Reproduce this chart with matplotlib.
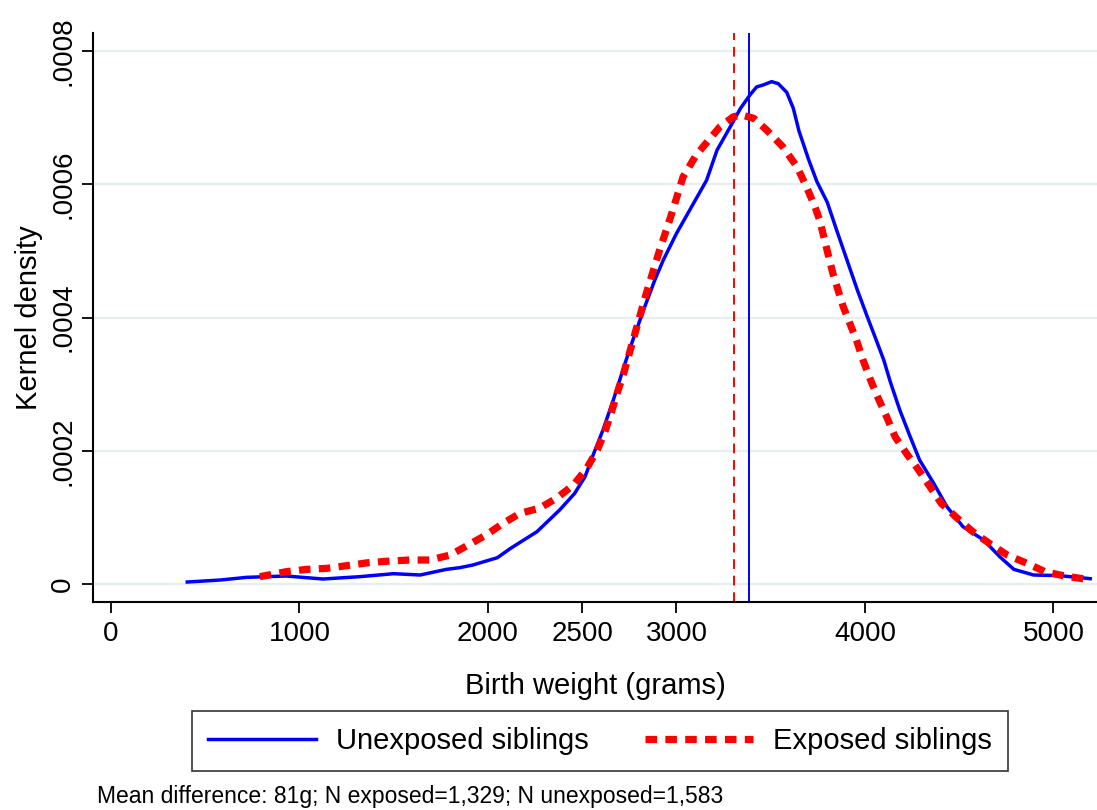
import matplotlib
matplotlib.use("Agg")
import matplotlib.pyplot as plt
from matplotlib.ticker import FuncFormatter

plt.rcParams['font.family'] = ['Liberation Sans', 'DejaVu Sans']

# Unexposed siblings (blue solid) kernel density
unexp_g = [405, 580, 720, 930, 1125, 1320, 1500, 1640, 1780, 1850, 1920, 2050, 2120,
           2260, 2380, 2460, 2515, 2560, 2610, 2665, 2750, 2825, 2885, 2930, 3000, 3090,
           3160, 3215, 3285, 3340, 3390, 3425, 3460, 3505, 3540, 3585, 3620, 3650, 3700,
           3745, 3800, 3850, 3905, 3960, 4010, 4060, 4100, 4135, 4185, 4240, 4290, 4365,
           4435, 4520, 4630, 4715, 4790, 4895, 5035, 5195]
unexp_d = [3, 6, 10, 12, 7.5, 11, 15.5, 13.5, 22, 24.5, 28.5, 39.5, 53.5, 78.5, 111,
           136, 161, 195, 231, 276, 351, 411, 456, 486, 526, 571, 606, 651, 686, 714,
           734, 746, 749, 754, 751, 738, 714, 680, 638, 604, 573, 531, 486, 441, 403,
           366, 336, 303, 261, 221, 186, 151, 116, 86, 66, 41, 22, 13.5, 12.5, 8]

# Exposed siblings (red dashed) kernel density
exp_g = [790, 930, 1040, 1145, 1250, 1365, 1480, 1585, 1690, 1800, 1895, 1990, 2080,
         2170, 2275, 2365, 2455, 2525, 2580, 2620, 2655, 2685, 2720, 2780, 2840, 2905,
         2975, 3035, 3105, 3230, 3300, 3345, 3410, 3480, 3565, 3640, 3690, 3735, 3760,
         3800, 3830, 3885, 3920, 3955, 3990, 4030, 4070, 4115, 4160, 4220, 4285, 4345,
         4405, 4485, 4570, 4660, 4755, 4860, 4955, 5060, 5200]
exp_d = [11, 18.5, 22, 23.5, 27.5, 32, 34.5, 36, 36, 43.5, 58.5, 73.5, 91, 106, 114,
         129, 149, 174, 201, 228, 258, 286, 316, 376, 436, 496, 556, 611, 644, 686,
         701, 704, 699, 681, 656, 626, 596, 566, 546, 500, 466, 416, 391, 366, 336,
         306, 279, 251, 221, 196, 171, 146, 121, 100, 79, 61, 43.5, 31, 18.5, 12, 6]

mean_exposed = 3305
mean_unexposed = 3386

x_ticks = [0, 1000, 2000, 2500, 3000, 4000, 5000]
y_ticks = [0, 0.0002, 0.0004, 0.0006, 0.0008]

labels = ["Unexposed siblings", "Exposed siblings"]
footer = "Mean difference: 81g; N exposed=1,329; N unexposed=1,583"

fig = plt.figure(figsize=(10.97, 8.10), dpi=100)
ax = fig.add_axes([93/1097, 1 - 602/810, 1 - 93/1097, (602 - 33)/810])

scale = 1e-6
for y in y_ticks:
    ax.axhline(y, color='#e6eef0', lw=1.6, zorder=0)

ax.plot(unexp_g, [v*scale for v in unexp_d], color='#0000ff', lw=2.5,
        label=labels[0], zorder=3, solid_joinstyle='round')
ax.plot(exp_g, [v*scale for v in exp_d], color='#ff0000', lw=5.2,
        dashes=(1.6, 1.15), dash_capstyle='butt', label=labels[1], zorder=4)

ax.axvline(mean_exposed, color='#ff0000', lw=1.4, dashes=(5, 3.5), zorder=2)
ax.axvline(mean_unexposed, color='#0000ff', lw=1.4, zorder=2)

ax.set_xlim(-95, 5231)
ax.set_ylim(-0.000027, 0.000827)
ax.set_xticks(x_ticks)
ax.set_yticks(y_ticks)
ax.yaxis.set_major_formatter(FuncFormatter(lambda v, p: "0" if v == 0 else ("%.4f" % v).lstrip('0')))

for s in ['top', 'right']:
    ax.spines[s].set_visible(False)
for s in ['left', 'bottom']:
    ax.spines[s].set_linewidth(1.5)

ax.tick_params(axis='both', direction='out', length=8, width=1.3, labelsize=20, colors='black')
ax.tick_params(axis='x', pad=6)
ax.tick_params(axis='y', pad=4)
for lbl in ax.get_yticklabels():
    lbl.set_rotation(90)
    lbl.set_va('center')

ax.set_xlabel("Birth weight (grams)", fontsize=21, labelpad=18)
ax.set_ylabel("Kernel density", fontsize=21, labelpad=5)

leg = fig.legend(loc='center', bbox_to_anchor=(600/1097, 1 - 741/810), ncol=2,
                 fontsize=21, frameon=True, fancybox=False, edgecolor='black',
                 handlelength=3.7, handletextpad=0.7, columnspacing=1.9,
                 borderpad=0.55)
leg.get_frame().set_linewidth(1.2)

fig.text(97/1097, 1 - 797/810, footer, fontsize=16.5, ha='left', va='center')

fig.savefig("out.png", dpi=100)
